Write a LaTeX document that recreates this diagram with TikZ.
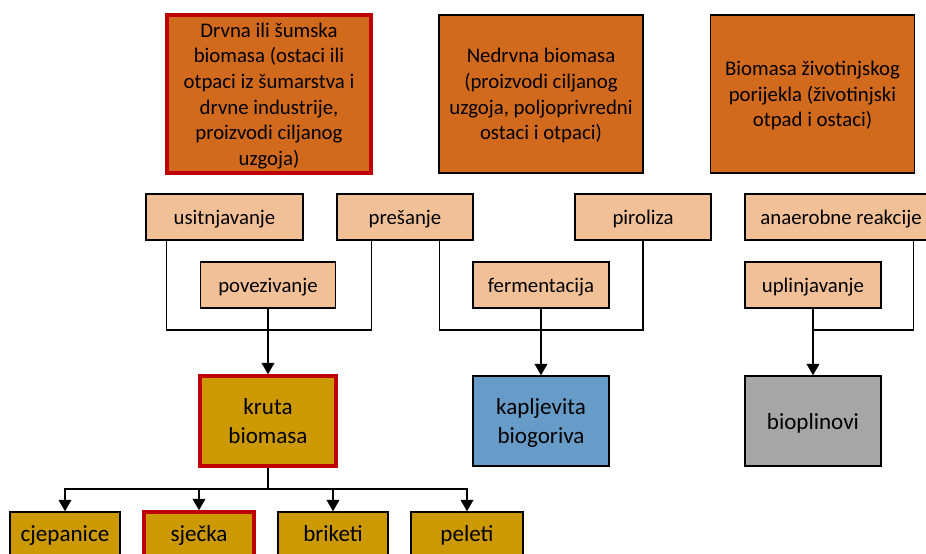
\documentclass[tikz,border=0pt]{standalone}
\usepackage{fontspec}
\setmainfont{Carlito}
\usetikzlibrary{arrows.meta,calc}
\definecolor{topor}{RGB}{210,106,30}
\definecolor{peach}{RGB}{242,192,150}
\definecolor{gold}{RGB}{204,153,0}
\definecolor{blu}{RGB}{104,156,200}
\definecolor{gry}{RGB}{166,166,166}
\definecolor{redb}{RGB}{192,0,0}
\tikzset{
  base/.style={draw=black,line width=1.1pt,align=center,inner sep=0pt,text=black},
  topbox/.style={base,fill=topor,minimum width=204*0.75pt,minimum height=158*0.75pt,text depth=0pt,font=\fontsize{15.6}{19.2}\selectfont},
  procbox/.style={base,fill=peach,minimum height=46*0.75pt,text height=15pt,text depth=4pt,font=\fontsize{15.6}{19.2}\selectfont},
  prodbox/.style={base,minimum width=136*0.75pt,minimum height=90*0.75pt,text depth=0pt,font=\fontsize{17.3}{21.7}\selectfont},
  smallbox/.style={base,fill=gold,minimum height=46*0.75pt,text height=14.5pt,text depth=4.5pt,font=\fontsize{17.3}{21.7}\selectfont},
  redframe/.style={draw=redb,line width=2.6pt},
  conn/.style={draw=black,line width=1.1pt},
  arr/.style={conn,-{Triangle[length=8.5pt,width=9.5pt]}}
}
\begin{document}
\begin{tikzpicture}[x=0.75pt,y=-0.75pt]
\useasboundingbox (0,0) rectangle (926,554);
% top boxes
\node[topbox,redframe] (drvna) at (269,94) {Drvna ili šumska\\biomasa (ostaci ili\\otpaci iz šumarstva i\\drvne industrije,\\proizvodi ciljanog\\uzgoja)};
\node[topbox] (nedrv) at (541,94) {Nedrvna biomasa\\(proizvodi ciljanog\\uzgoja, poljoprivredni\\ostaci i otpaci)};
\node[topbox] (zivot) at (812.5,94) {Biomasa životinjskog\\porijekla (životinjski\\otpad i ostaci)};
% process row 1
\node[procbox,minimum width=157*0.75pt] (usit) at (224.5,217) {usitnjavanje};
\node[procbox,minimum width=136*0.75pt] (pres) at (405,217) {prešanje};
\node[procbox,minimum width=136*0.75pt] (piro) at (643,217) {piroliza};
\node[procbox,minimum width=192*0.75pt] (anae) at (841,217) {anaerobne reakcije};
% process row 2
\node[procbox,minimum width=135*0.75pt] (povez) at (268,285) {povezivanje};
\node[procbox,minimum width=136*0.75pt] (ferm) at (541,285) {fermentacija};
\node[procbox,minimum width=136*0.75pt] (upl) at (813,285) {uplinjavanje};
% products
\node[prodbox,fill=gold,redframe] (kruta) at (268,421) {kruta\\biomasa};
\node[prodbox,fill=blu] (kaplj) at (541,421) {kapljevita\\biogoriva};
\node[prodbox,fill=gry] (biopl) at (813,421) {bioplinovi};
% bottom row
\node[smallbox,minimum width=110*0.75pt] (cjep) at (65,535) {cjepanice};
\node[smallbox,redframe,minimum width=110*0.75pt] (sjec) at (199,535) {sječka};
\node[smallbox,minimum width=110*0.75pt] (brik) at (333,535) {briketi};
\node[smallbox,minimum width=112*0.75pt] (pele) at (467,535) {peleti};
% connectors
\coordinate (j1) at (268,330);
\coordinate (j2) at (541,330);
\coordinate (j3) at (813,330);
\coordinate (j4) at (268,489);
\draw[conn] ($(usit.south west)+(21,0)$) |- (j1) -| ($(pres.south west)+(35,0)$);
\draw[arr] (povez) -- (kruta);
\draw[conn] ($(pres.south east)+(-34,0)$) |- (j2) -| (piro.south);
\draw[arr] (ferm) -- (kaplj);
\draw[conn] ($(anae.south west)+(169,0)$) |- (j3);
\draw[arr] (upl) -- (biopl);
\draw[conn] (kruta) -- (j4);
\draw[arr] (j4) -| (cjep);
\draw[arr] (j4) -| (sjec);
\draw[arr] (j4) -| (brik);
\draw[arr] (j4) -| (pele);
\end{tikzpicture}
\end{document}
